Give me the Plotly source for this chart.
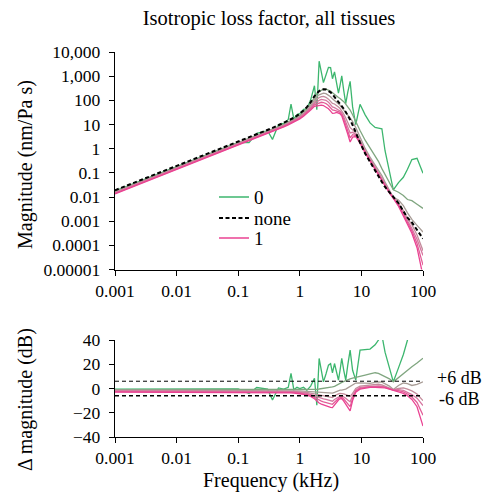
import numpy as np
import plotly.graph_objects as go

# ---------------- data ----------------
freq_khz = [0.001, 0.003, 0.01, 0.03, 0.1, 0.15, 0.2, 0.3, 0.36, 0.45,
            0.55, 0.65, 0.72, 0.8, 0.9, 1.0, 1.15, 1.3, 1.5, 1.73,
            1.89, 2.06, 2.24, 2.42, 2.66, 2.92, 3.16, 3.39, 3.66, 3.95,
            4.24, 4.5, 4.8, 5.17, 5.57, 6.0, 6.56, 7.2, 8.1, 9.5,
            11.5, 13.8, 16.7, 18.9, 21.5, 24.2, 28.5, 33, 40, 48,
            56, 66, 80, 100]

# magnitude of the "none" case (nm/Pa s)
mag_none = [0.019, 0.057, 0.19, 0.57, 1.9, 2.9, 3.9, 5.9, 7.2, 9.3,
            11.7, 14.5, 16.6, 19, 23, 28, 38, 52, 83, 151,
            200, 240, 275, 288, 282, 251, 214, 178, 141, 112,
            89, 74, 59, 45, 33, 24, 15.8, 9.5, 4.5, 1.78,
            0.63, 0.275, 0.12, 0.071, 0.042, 0.026, 0.0158, 0.0105, 0.0056, 0.0026,
            0.0014, 0.00089, 0.00045, 0.00019]

# delta magnitude relative to "none" (dB), loss factor 0 ... 1
delta_0 = [-0.6, -0.6, -0.6, -0.5, -0.4, -4.2, 0.8, -0.5, -9.5, 0.5,
           -0.5, 1.0, 12.5, -1.0, 1.0, 0.0, 1.0, -1.5, 2.0, 8.5,
           -13.8, 24.8, 14.0, 5.5, 12.0, 19.3, 20.5, 12.9, 20.6, 13.0,
           6.9, 15.0, 24.8, 15.0, 6.9, 19.0, 31.7, 15.0, 6.9, 31.7,
           32.0, 32.5, 36.0, 40.0, 44.0, 30.0, 16.0, 5.5, 17.0, 28.0,
           40.0, 52.0, 59.0, 54.0]
delta_1 = [-1.0, -1.0, -1.0, -1.0, -1.0, -1.0, -1.0, -1.0, -1.1, -1.1,
           -1.1, -1.2, -1.2, -1.2, -1.2, -1.2, -1.2, -1.1, -1.0, -0.8,
           -0.6, -0.4, -0.2, 0.0, 0.3, 0.6, 1.0, 1.3, 1.8, 2.5,
           3.3, 4.2, 5.0, 5.8, 6.5, 7.2, 8.0, 8.5, 9.0, 10.0,
           11.0, 12.0, 13.0, 12.5, 11.0, 10.0, 8.0, 5.5, 9.0, 13.0,
           15.0, 18.0, 21.0, 25.0]
delta_2 = [-1.4, -1.4, -1.4, -1.4, -1.4, -1.4, -1.4, -1.5, -1.5, -1.6,
           -1.7, -1.8, -1.8, -1.9, -1.9, -2.0, -2.1, -2.3, -2.5, -2.7,
           -2.9, -3.0, -3.2, -3.3, -3.5, -3.6, -3.7, -3.8, -3.2, -2.5,
           -1.8, -1.4, -1.4, -1.0, -0.5, 0.5, 1.5, 2.8, 4.5, 4.6,
           4.2, 4.2, 5.0, 5.5, 5.2, 4.0, 2.0, -0.8, 2.5, 4.5,
           4.0, 2.5, 3.5, 5.5]
delta_3 = [-1.8, -1.8, -1.8, -1.8, -1.8, -1.8, -1.8, -1.9, -1.9, -2.0,
           -2.1, -2.2, -2.3, -2.4, -2.5, -2.6, -2.9, -3.3, -3.8, -4.4,
           -5.0, -5.4, -5.7, -6.0, -6.5, -7.0, -7.3, -7.5, -6.0, -5.0,
           -4.5, -4.1, -4.0, -4.5, -5.0, -5.8, -6.5, -4.0, 0.0, 2.0,
           2.5, 3.0, 3.5, 3.5, 3.0, 2.0, 0.5, -1.0, 0.0, 0.5,
           -0.5, -2.0, -4.5, -10.0]
delta_4 = [-2.2, -2.2, -2.2, -2.2, -2.2, -2.2, -2.2, -2.3, -2.3, -2.4,
           -2.5, -2.6, -2.7, -2.8, -3.0, -3.2, -3.6, -4.1, -4.8, -6.0,
           -7.0, -7.6, -8.0, -8.5, -9.0, -9.5, -10.0, -10.5, -9.0, -7.8,
           -7.0, -6.3, -6.0, -6.8, -8.0, -9.5, -11.0, -6.0, -1.5, 1.0,
           1.5, 2.0, 2.2, 2.2, 2.0, 1.3, 0.0, -1.2, -1.0, -1.5,
           -3.0, -5.0, -8.0, -14.0]
delta_5 = [-2.6, -2.6, -2.6, -2.6, -2.6, -2.6, -2.6, -2.7, -2.7, -2.8,
           -2.9, -3.0, -3.1, -3.2, -3.5, -3.8, -4.2, -4.8, -5.6, -7.3,
           -8.8, -9.8, -10.4, -11.0, -11.7, -12.3, -12.7, -13.0, -11.3, -9.5,
           -8.3, -7.5, -7.2, -8.7, -10.5, -12.5, -15.0, -8.0, -2.3, 0.2,
           1.0, 1.5, 1.6, 1.6, 1.5, 0.9, -0.3, -1.4, -1.8, -2.8,
           -4.5, -7.0, -11.5, -22.0]
delta_6 = [-3.0, -3.0, -3.0, -3.0, -3.0, -3.0, -3.0, -3.1, -3.2, -3.3,
           -3.4, -3.5, -3.6, -3.8, -4.0, -4.3, -4.8, -5.5, -6.5, -8.5,
           -10.5, -12.0, -12.8, -13.5, -14.5, -15.0, -15.5, -15.8, -13.5, -11.0,
           -9.5, -8.5, -8.3, -10.5, -13.0, -15.5, -18.5, -10.0, -3.0, -0.5,
           0.5, 1.0, 1.0, 1.0, 1.0, 0.5, -0.5, -1.5, -2.5, -4.0,
           -6.0, -9.0, -15.0, -31.0]

series_names = ["0", "0.17", "0.33", "0.5", "0.67", "0.83", "1"]
thresholds_db = [6, -6]
threshold_labels = ["+6 dB", "-6 dB"]

y_tick_vals = [1e-5, 1e-4, 1e-3, 1e-2, 1e-1, 1, 10, 100, 1000, 10000]
y_tick_text = ["0.00001", "0.0001", "0.001", "0.01", "0.1", "1", "10", "100", "1,000", "10,000"]
x_tick_vals = [0.001, 0.01, 0.1, 1, 10, 100]
x_tick_text = ["0.001", "0.01", "0.1", "1", "10", "100"]
dy_tick_vals = [-40, -20, 0, 20, 40]

# ---------------- styling ----------------
W, H = 486, 494
FONT = "Liberation Serif"
colors = ["rgb(60,182,110)", "rgb(128,166,128)", "rgb(168,156,150)",
          "rgb(196,140,156)", "rgb(214,118,160)", "rgb(226,94,152)",
          "rgb(234,66,146)"]

def px_x(x):
    return x / W

def px_y(y):
    return 1 - y / H

deltas = [delta_0, delta_1, delta_2, delta_3, delta_4, delta_5, delta_6]
f = np.array(freq_khz)
none = np.array(mag_none)

fig = go.Figure()

# top panel: magnitudes
legend_map = {0: "legend", 6: "legend3"}
for i, d in enumerate(deltas):
    mag = none * 10 ** (np.array(d) / 20.0)
    fig.add_trace(go.Scatter(
        x=f, y=mag, mode="lines", name=series_names[i],
        line=dict(color=colors[i], width=1.3),
        showlegend=i in legend_map, legend=legend_map.get(i, "legend"),
        xaxis="x", yaxis="y"))
fig.add_trace(go.Scatter(
    x=f, y=none, mode="lines", name="none",
    line=dict(color="black", width=2, dash="4px,2.5px"),
    showlegend=True, legend="legend2", xaxis="x", yaxis="y"))

# bottom panel: delta magnitudes
for i, d in enumerate(deltas):
    fig.add_trace(go.Scatter(
        x=f, y=d, mode="lines", name=series_names[i],
        line=dict(color=colors[i], width=1.3),
        showlegend=False, xaxis="x2", yaxis="y2"))
for t, w in zip(thresholds_db, [1.0, 1.6]):
    fig.add_trace(go.Scatter(
        x=[freq_khz[0], freq_khz[-1]], y=[t, t], mode="lines",
        line=dict(color="black", width=w, dash="4px,3px"),
        showlegend=False, hoverinfo="skip", xaxis="x2", yaxis="y2"))

axis_common = dict(showline=True, linecolor="black", linewidth=1.3,
                   ticks="outside", ticklen=5, tickwidth=1.3, tickcolor="black",
                   showgrid=False, zeroline=False, automargin=False,
                   tickfont=dict(family=FONT, size=17.5, color="black"))

xdom = [px_x(115), px_x(423)]
fig.update_layout(
    width=W, height=H,
    margin=dict(l=0, r=0, t=0, b=0),
    paper_bgcolor="white", plot_bgcolor="white",
    font=dict(family=FONT, color="black"),
    title=dict(text="Isotropic loss factor, all tissues",
               font=dict(family=FONT, size=20.5, color="black"),
               x=px_x(269), y=px_y(17.5), xanchor="center", yanchor="middle",
               xref="paper", yref="paper"),
    xaxis=dict(type="log", range=[-3, 2], domain=xdom, anchor="y",
               tickvals=x_tick_vals, ticktext=x_tick_text, **axis_common),
    yaxis=dict(type="log", range=[-5, 4], domain=[px_y(269.5), px_y(52)], anchor="x",
               tickvals=y_tick_vals, ticktext=y_tick_text, ticklabelstandoff=5,
               **axis_common),
    xaxis2=dict(type="log", range=[-3, 2], domain=xdom, anchor="y2",
                tickvals=x_tick_vals, ticktext=x_tick_text, **axis_common),
    yaxis2=dict(range=[-40, 40], domain=[px_y(437), px_y(340)], anchor="x2",
                tickvals=dy_tick_vals, ticklabelstandoff=5, **axis_common),
)

leg_font = dict(family=FONT, size=19, color="black")
item_center_off = 5 + (19 * 1.3 + 3) / 2
for key, yc in zip(["legend", "legend2", "legend3"], [197, 218, 238]):
    fig.update_layout({key: dict(x=px_x(214), y=px_y(yc - item_center_off),
                                 xanchor="left", yanchor="top",
                                 bgcolor="rgba(0,0,0,0)", borderwidth=0,
                                 font=leg_font)})

# axis titles and threshold labels
fig.add_annotation(text="Magnitude (nm/Pa s)", xref="paper", yref="paper",
                   x=px_x(25), y=px_y(165), textangle=-90, showarrow=False,
                   xanchor="center", yanchor="middle",
                   font=dict(family=FONT, size=20, color="black"))
fig.add_annotation(text="Δ magnitude (dB)", xref="paper", yref="paper",
                   x=px_x(25), y=px_y(400), textangle=-90, showarrow=False,
                   xanchor="center", yanchor="middle",
                   font=dict(family=FONT, size=20, color="black"))
fig.add_annotation(text="Frequency (kHz)", xref="paper", yref="paper",
                   x=px_x(271), y=px_y(480), showarrow=False,
                   xanchor="center", yanchor="middle",
                   font=dict(family=FONT, size=20, color="black"))
for t, lab in zip(thresholds_db, threshold_labels):
    fig.add_annotation(text=lab, xref="paper", yref="y2",
                       x=px_x(459), y=t, showarrow=False,
                       xanchor="center", yanchor="middle",
                       yshift=3 if t > 0 else -3,
                       font=dict(family=FONT, size=18, color="black"))

fig.write_html("out.html")
